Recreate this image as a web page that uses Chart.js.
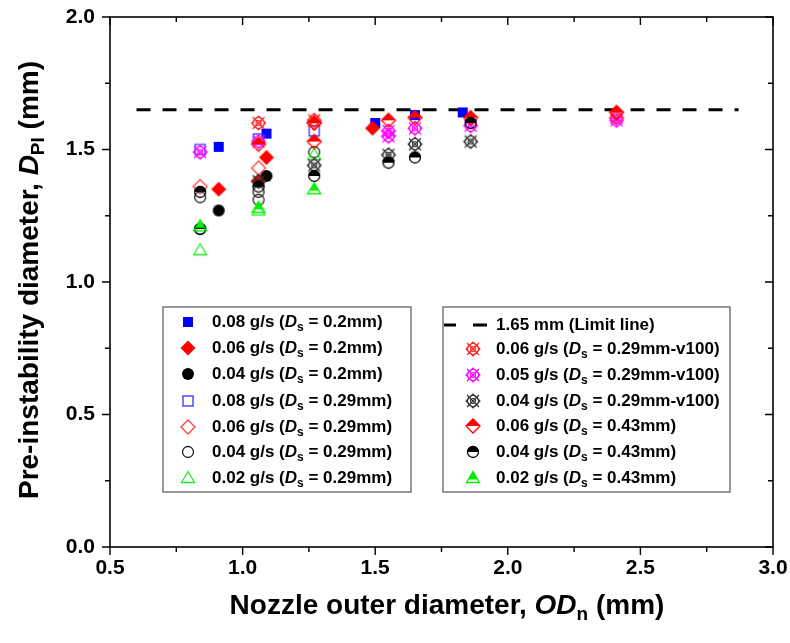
<!DOCTYPE html>
<html><head><meta charset="utf-8">
<script src="https://cdn.jsdelivr.net/npm/chart.js@4/dist/chart.umd.min.js"></script>
<style>html,body{margin:0;padding:0;background:#fff}</style>
</head><body><canvas id="c" width="790" height="643"></canvas>
<script>
// ---- data ----
const xTickVals = [0.5, 1.0, 1.5, 2.0, 2.5, 3.0];
const yTickVals = [0.0, 0.5, 1.0, 1.5, 2.0];
const flowRates = ['0.08','0.06','0.04','0.08','0.06','0.04','0.02','0.06','0.05','0.04','0.06','0.04','0.02'];
const sheathDs  = ['0.2mm','0.2mm','0.2mm','0.29mm','0.29mm','0.29mm','0.29mm','0.29mm-v100','0.29mm-v100','0.29mm-v100','0.43mm','0.43mm','0.43mm'];
const s1x = [0.91, 1.09, 1.50, 1.65, 1.83]; const s1y = [1.51, 1.56, 1.60, 1.63, 1.64];
const s2x = [0.91, 1.06, 1.09, 1.49];       const s2y = [1.35, 1.38, 1.47, 1.58];
const s3x = [0.91, 1.09];                   const s3y = [1.27, 1.40];
const s4x = [0.84, 1.06, 1.27];             const s4y = [1.50, 1.54, 1.57];
const s5x = [0.84, 1.06, 1.27];             const s5y = [1.36, 1.43, 1.60];
const s6x = [0.84, 0.84, 1.06, 1.06, 1.27]; const s6y = [1.32, 1.20, 1.34, 1.31, 1.49];
const s7x = [0.84, 1.06, 1.27];             const s7y = [1.12, 1.27, 1.48];
const s8x = [1.06, 1.27, 2.41];             const s8y = [1.60, 1.61, 1.62];
const s9x = [0.84, 1.06, 1.55, 1.55, 1.65, 1.86, 2.41]; const s9y = [1.49, 1.53, 1.57, 1.55, 1.58, 1.59, 1.61];
const s10x = [1.06, 1.27, 1.55, 1.65, 1.86]; const s10y = [1.38, 1.44, 1.48, 1.52, 1.53];
const s11x = [1.06, 1.27, 1.27, 1.55, 1.65, 1.86, 2.41]; const s11y = [1.52, 1.60, 1.53, 1.61, 1.62, 1.62, 1.64];
const s12x = [0.84, 0.84, 1.06, 1.27, 1.55, 1.65, 1.86]; const s12y = [1.34, 1.20, 1.36, 1.40, 1.45, 1.47, 1.60];
const s13x = [0.84, 1.06, 1.27];            const s13y = [1.21, 1.28, 1.35];
const limitX = [0.6, 2.87]; const limitY = [1.65, 1.65];
const limitLabel = '1.65 mm (Limit line)';
const xTitle = ['Nozzle outer diameter, ', 'OD', 'n', ' (mm)'];
const yTitle = ['Pre-instability diameter, ', 'D', 'PI', ' (mm)'];

const allX = [s1x,s2x,s3x,s4x,s5x,s6x,s7x,s8x,s9x,s10x,s11x,s12x,s13x];
const allY = [s1y,s2y,s3y,s4y,s5y,s6y,s7y,s8y,s9y,s10y,s11y,s12y,s13y];

// ---- marker images ----
const FONT = '"Liberation Sans", Arial, sans-serif';
function mk(draw) {
  const c = document.createElement('canvas'); c.width = 20; c.height = 20;
  const g = c.getContext('2d'); draw(g, 10, 10); return c;
}
function diamond(g, cx, cy, r) { g.beginPath(); g.moveTo(cx, cy - r); g.lineTo(cx + r, cy); g.lineTo(cx, cy + r); g.lineTo(cx - r, cy); g.closePath(); }
function tri(g, cx, cy) { g.beginPath(); g.moveTo(cx, cy - 6.5); g.lineTo(cx + 6.5, cy + 4.5); g.lineTo(cx - 6.5, cy + 4.5); g.closePath(); }
function v100(col) {
  return mk((g, cx, cy) => {
    g.strokeStyle = col; g.lineWidth = 1.1;
    g.beginPath(); g.arc(cx, cy, 5.5, 0, Math.PI * 2); g.stroke();
    g.beginPath(); g.arc(cx, cy, 2.5, 0, Math.PI * 2); g.stroke();
    g.beginPath(); g.moveTo(cx - 6, cy - 6); g.lineTo(cx + 6, cy + 6); g.moveTo(cx + 6, cy - 6); g.lineTo(cx - 6, cy + 6); g.stroke();
    diamond(g, cx, cy, 7); g.stroke();
  });
}
const markers = [
  mk((g, cx, cy) => { g.fillStyle = '#0000ff'; g.fillRect(cx - 5, cy - 5, 10, 10); }),
  mk((g, cx, cy) => { g.fillStyle = '#ff0000'; diamond(g, cx, cy, 7.5); g.fill(); }),
  mk((g, cx, cy) => { g.fillStyle = '#000'; g.beginPath(); g.arc(cx, cy, 6, 0, Math.PI * 2); g.fill(); }),
  mk((g, cx, cy) => { g.strokeStyle = '#3030ff'; g.lineWidth = 1.3; g.strokeRect(cx - 5, cy - 5, 10, 10); }),
  mk((g, cx, cy) => { g.strokeStyle = '#ff4040'; g.lineWidth = 1.3; diamond(g, cx, cy, 7); g.stroke(); }),
  mk((g, cx, cy) => { g.strokeStyle = '#222'; g.lineWidth = 1.3; g.beginPath(); g.arc(cx, cy, 5.5, 0, Math.PI * 2); g.stroke(); }),
  mk((g, cx, cy) => { g.strokeStyle = '#22ee22'; g.lineWidth = 1.3; tri(g, cx, cy); g.stroke(); }),
  v100('#ff2020'),
  v100('#ff00ff'),
  v100('#333333'),
  mk((g, cx, cy) => { g.fillStyle = '#ff0000'; g.strokeStyle = '#ff0000'; g.lineWidth = 1.3;
    g.beginPath(); g.moveTo(cx, cy - 7.5); g.lineTo(cx + 7.5, cy); g.lineTo(cx - 7.5, cy); g.closePath(); g.fill();
    diamond(g, cx, cy, 7); g.stroke(); }),
  mk((g, cx, cy) => { g.fillStyle = '#000'; g.strokeStyle = '#000'; g.lineWidth = 1.3;
    g.beginPath(); g.arc(cx, cy, 6, Math.PI, 0); g.closePath(); g.fill();
    g.beginPath(); g.arc(cx, cy, 5.5, 0, Math.PI * 2); g.stroke(); }),
  mk((g, cx, cy) => { g.fillStyle = '#00ee00'; g.strokeStyle = '#00ee00'; g.lineWidth = 1.3;
    g.save(); g.beginPath(); g.rect(0, 0, 20, cy + 1.5); g.clip(); tri(g, cx, cy); g.fill(); g.restore();
    tri(g, cx, cy); g.stroke(); })
];

// ---- datasets ----
const datasets = allX.map((xs, i) => ({
  type: 'scatter',
  label: flowRates[i] + ' g/s (Ds = ' + sheathDs[i] + ')',
  data: xs.map((x, j) => ({ x: x, y: allY[i][j] })),
  pointStyle: markers[i], pointRadius: 8, showLine: false, order: -i
}));
datasets.push({
  type: 'line', label: limitLabel,
  data: limitX.map((x, j) => ({ x: x, y: limitY[j] })),
  borderColor: '#000', borderWidth: 3, borderDash: [14, 12], pointRadius: 0, fill: false, order: 100
});

function rich(ctx, x, y, parts, size, align) {
  const fonts = parts.map(p => (p.it ? 'italic ' : '') + 'bold ' + (p.sub ? Math.round(size * 0.68) : size) + 'px ' + FONT);
  let w = 0;
  parts.forEach((p, k) => { ctx.font = fonts[k]; w += ctx.measureText(p.t).width; });
  let cx = align === 'center' ? x - w / 2 : x;
  ctx.textBaseline = 'middle'; ctx.textAlign = 'left'; ctx.fillStyle = '#000';
  parts.forEach((p, k) => { ctx.font = fonts[k]; ctx.fillText(p.t, cx, y + (p.sub ? size * 0.32 : 0)); cx += ctx.measureText(p.t).width; });
}
function legendParts(i) {
  return [{ t: flowRates[i] + ' g/s (' }, { t: 'D', it: true }, { t: 's', sub: true }, { t: ' = ' + sheathDs[i] + ')' }];
}

const deco = {
  id: 'deco',
  afterDraw(chart) {
    const ctx = chart.ctx, a = chart.chartArea, xs = chart.scales.x, ys = chart.scales.y;
    ctx.save();
    ctx.strokeStyle = '#000'; ctx.lineWidth = 1.6;
    ctx.strokeRect(a.left, a.top, a.right - a.left, a.bottom - a.top);
    ctx.lineWidth = 1.4;
    ctx.beginPath();
    for (let k = 0; k <= 10; k++) {
      const v = 0.5 + k * 0.25, px = xs.getPixelForValue(v), L = k % 2 === 0 ? 8 : 5;
      ctx.moveTo(px, a.bottom); ctx.lineTo(px, a.bottom + L);
      ctx.moveTo(px, a.top); ctx.lineTo(px, a.top + L);
    }
    for (let k = 0; k <= 8; k++) {
      const v = k * 0.25, py = ys.getPixelForValue(v), L = k % 2 === 0 ? 8 : 5;
      ctx.moveTo(a.left - L, py); ctx.lineTo(a.left, py);
      ctx.moveTo(a.right - L, py); ctx.lineTo(a.right, py);
    }
    ctx.stroke();

    // axis titles
    rich(ctx, 447, 606, [{ t: xTitle[0] }, { t: xTitle[1], it: true }, { t: xTitle[2], sub: true }, { t: xTitle[3] }], 28, 'center');
    ctx.save(); ctx.translate(30, 280); ctx.rotate(-Math.PI / 2);
    rich(ctx, 0, 0, [{ t: yTitle[0] }, { t: yTitle[1], it: true }, { t: yTitle[2], sub: true }, { t: yTitle[3] }], 28, 'center');
    ctx.restore();

    // legends
    ctx.strokeStyle = '#777'; ctx.lineWidth = 1.5;
    ctx.strokeRect(163, 307, 248, 185);
    ctx.strokeRect(443, 307, 287, 185);
    const rowsL = [322, 348, 374, 401, 427, 452, 478];
    for (let i = 0; i < 7; i++) {
      ctx.drawImage(markers[i], 188 - 10, rowsL[i] - 10);
      rich(ctx, 212, rowsL[i], legendParts(i), 17, 'left');
    }
    const rowsR = [325, 349, 375, 401, 426, 452, 478];
    ctx.strokeStyle = '#000'; ctx.lineWidth = 3;
    ctx.beginPath(); ctx.moveTo(444, rowsR[0]); ctx.lineTo(456, rowsR[0]); ctx.moveTo(473, rowsR[0]); ctx.lineTo(487, rowsR[0]); ctx.stroke();
    rich(ctx, 496, rowsR[0], [{ t: limitLabel }], 17, 'left');
    for (let i = 7; i < 13; i++) {
      ctx.drawImage(markers[i], 473 - 10, rowsR[i - 6] - 10);
      rich(ctx, 496, rowsR[i - 6], legendParts(i), 17, 'left');
    }
    ctx.restore();
  }
};

function noPad(s) { s.paddingTop = 0; s.paddingBottom = 0; s.paddingLeft = 0; s.paddingRight = 0; }

new Chart(document.getElementById('c'), {
  data: { datasets: datasets },
  options: {
    responsive: false, animation: false,
    layout: { padding: { top: 17, right: 17, left: 0, bottom: 0 } },
    plugins: { legend: { display: false }, tooltip: { enabled: false } },
    scales: {
      x: {
        type: 'linear', min: 0.5, max: 3.0,
        afterBuildTicks: s => { s.ticks = xTickVals.map(v => ({ value: v })); },
        afterFit: s => { s.height = 96; noPad(s); },
        ticks: { font: { family: FONT, size: 21, weight: 'bold' }, color: '#000', padding: 9, maxRotation: 0, autoSkip: false, callback: v => Number(v).toFixed(1) },
        grid: { display: false, drawTicks: false, tickLength: 0 }, border: { display: false }
      },
      y: {
        type: 'linear', min: 0, max: 2.0,
        afterBuildTicks: s => { s.ticks = yTickVals.map(v => ({ value: v })); },
        afterFit: s => { s.width = 110; noPad(s); },
        ticks: { font: { family: FONT, size: 21, weight: 'bold' }, color: '#000', padding: 15, autoSkip: false, callback: v => Number(v).toFixed(1) },
        grid: { display: false, drawTicks: false, tickLength: 0 }, border: { display: false }
      }
    }
  },
  plugins: [deco]
});
</script></body></html>
